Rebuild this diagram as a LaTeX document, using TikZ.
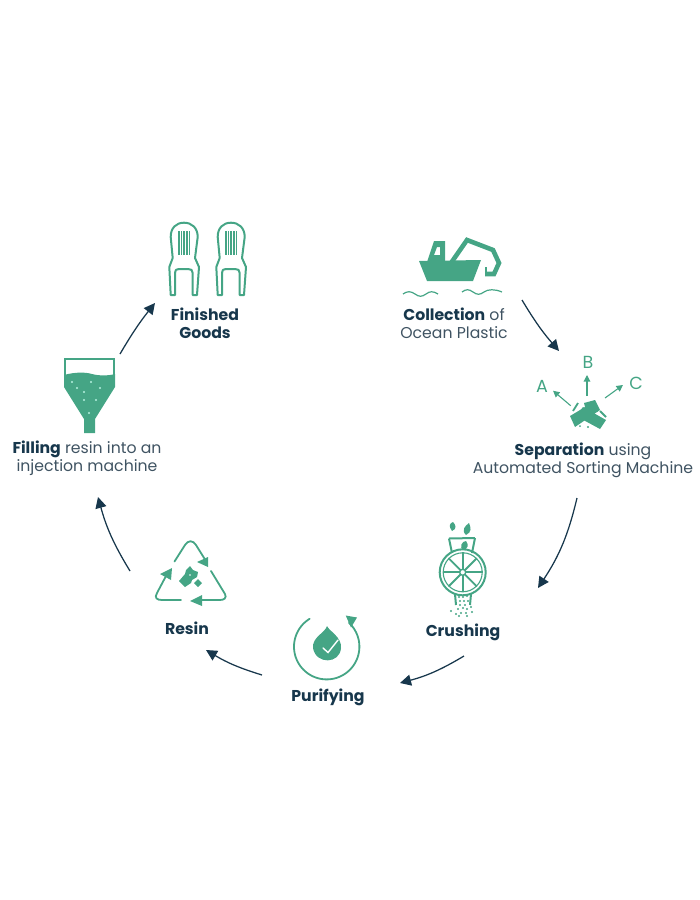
\documentclass[tikz,border=0pt]{standalone}
\usepackage{fontspec}
\setmainfont{Poppins}
\usetikzlibrary{arrows.meta}
\definecolor{leaf}{HTML}{45A585}
\definecolor{navy}{HTML}{17374C}
\definecolor{ink}{HTML}{3F5362}
\definecolor{glint}{HTML}{B5F0E0}
\tikzset{
  x=1pt,y=-1pt,
  flow/.style={draw=navy,line width=1.25pt,-{Triangle[length=11pt,width=11pt,fill=navy]}},
  label/.style={font=\fontsize{15.7}{18.2}\selectfont,text=ink,align=center,inner sep=0pt,anchor=center},
  icon/.style={draw=leaf,line width=2pt,fill=none,line join=round},
  solid/.style={fill=leaf,draw=none},
  sep/.style={draw=leaf,line width=1.1pt,-{Triangle[length=6.5pt,width=6.5pt,fill=leaf]}},
  letter/.style={font=\fontsize{17.5}{18}\selectfont,text=leaf,inner sep=0pt},
  speck/.style={fill=leaf,draw=none},
  turn/.style={draw=leaf,line width=1.8pt,line cap=round,fill=none}
}
\newcommand{\bt}[1]{{\bfseries\color{navy}#1}}
\begin{document}
\begin{tikzpicture}
\useasboundingbox (0,0) rectangle (700,900);
% labels
\node[label] (collection) at (454,323) {\bt{Collection} of\\Ocean Plastic};
\node[label] (separation) at (583,460) {\bt{Separation} using\\Automated Sorting Machine};
\node[label] (crushing) at (463,632) {\bt{Crushing}};
\node[label] (purifying) at (328,697) {\bt{Purifying}};
\node[label] (resin) at (187,628) {\bt{Resin}};
\node[label] (filling) at (87,458) {\bt{Filling} resin into an\\injection machine};
\node[label] (finished) at (205,323) {\bt{Finished}\\\bt{Goods}};
% connector ends
\coordinate (a1) at (522,300); \coordinate (b1) at (559,351);
\coordinate (a2) at (577,498); \coordinate (b2) at (538,588);
\coordinate (a3) at (464,656); \coordinate (b3) at (400,683);
\coordinate (a4) at (262,675); \coordinate (b4) at (206,650);
\coordinate (a5) at (130,571); \coordinate (b5) at (98,497);
\coordinate (a6) at (120,354); \coordinate (b6) at (155,303);
\draw[flow] (a1) to[bend right=5] (b1);
\draw[flow] (a2) to[bend left=10] (b2);
\draw[flow] (a3) to[bend left=8] (b3);
\draw[flow] (a4) to[bend left=7] (b4);
\draw[flow] (a5) to[bend left=8] (b5);
\draw[flow] (a6) to[bend left=4] (b6);
% boat
\fill[solid] (419,261) -- (481,260) -- (473,281) -- (427,281) -- cycle;
\fill[solid,even odd rule] (427,262) -- (434,241) -- (445,241) -- (445,262) -- cycle
  (434,255) -- (437,247) -- (440,247) -- (440,255) -- cycle;
\draw[leaf,line width=4.6pt,line join=miter] (451,263) -- (467,240) -- (493,250) -- (499,263) -- (494,274) -- (485,274);
\draw[leaf,line width=2.8pt] (486,276) -- (486,267);
\draw[leaf,line width=1.2pt] (403,294) .. controls (407,291) and (411,291) .. (415,294) .. controls (419,297) and (422,297) .. (426,294) .. controls (430,291) and (433,291) .. (438,294);
\draw[leaf,line width=1.2pt] (462,292) .. controls (466,289) and (469,289) .. (473,292) .. controls (477,295) and (480,295) .. (484,292) .. controls (488,289) and (495,289) .. (502,292);
% separation
\draw[sep] (570.7,405.7) -- (553,390.7);
\draw[sep] (587,396) -- (587,375);
\draw[sep] (605,398) -- (623,385);
\node[letter] (la) at (542,386) {A};
\node[letter] (lb) at (588,362) {B};
\node[letter] (lc) at (636,383) {C};
\fill[solid] (570,416) -- (575,427) -- (600,410) -- (595,400) -- (584,403) -- (585,407) -- cycle;
\fill[solid] (583,407) -- (576,416) -- (600,429) -- (606,420) -- cycle;
\draw[leaf,line width=1.8pt] (573,411) -- (578,403);
\draw[leaf,line width=1.8pt] (600,411) -- (606,417);
\fill[speck] (580,426) circle (1pt) (588,427) circle (1.2pt) (597,411) circle (1pt);
% crusher
\draw[icon] (449,538.5) -- (475,538);
\draw[icon] (449,538.5) -- (452,553);
\draw[icon] (475,538) -- (472,553);
\draw[icon] (462.7,572.3) circle (23);
\draw[leaf,line width=1.1pt] (462.7,572.3) circle (19.5);
\foreach \a in {0,45,...,315}{\draw[leaf,line width=1.8pt] (462.7,572.3) ++(\a:3) -- ++(\a:17);}
\draw[leaf,line width=1.4pt,fill=white] (462.7,572.3) circle (3);
\draw[icon] (455,594) -- (456,605);
\draw[icon] (471,594) -- (470,605);
\fill[solid] (452,531) .. controls (448,526) and (450,523) .. (453,522) .. controls (456,525) and (457,529) .. (452,531) -- cycle;
\fill[solid] (466,535) .. controls (461,530) and (465,526) .. (469,523) .. controls (471,528) and (472,532) .. (466,535) -- cycle;
\fill[solid] (463,550) .. controls (459,547) and (462,541) .. (466,541) .. controls (469,545) and (468,549) .. (463,550) -- cycle;
\foreach \x/\y in {459/597,463/597,467/596,460/601,464/601,468/601,460/605,465/605,458/609,463/608,467/609,471/607,456/614,461/613,466/613,472/612,451/611,459/616,467/616}{
  \fill[speck] (\x,\y) circle (1.1pt);}
% purifying
\draw[turn] plot[domain=238.6:-47,samples=70] ({326.7+32.7*cos(\x)},{646.7+32.7*sin(\x)});
\fill[solid] (345.7,615.5) -- (357,617.5) -- (351,627.5) -- cycle;
\fill[solid] (327,626) .. controls (329,631) and (342,637) .. (341,648) .. controls (340,664) and (316,665) .. (313,648) .. controls (312,637) and (325,633) .. (327,626) -- cycle;
\draw[white,line width=1.4pt,line cap=round] (323,648) -- (328,652.5) -- (338,640);
% resin
\draw[turn] (174.5,561.5) -- (185,545) .. controls (188,540) and (193,540) .. (196,545) -- (206,561);
\fill[solid] (197,562) -- (208,557) -- (208,567) -- cycle;
\draw[turn] (211,571) -- (225,594) .. controls (227,598) and (224,600) .. (220,600) -- (202,600);
\fill[solid] (202,595) -- (202,606) -- (190,601) -- cycle;
\draw[turn] (181,600) -- (162,600) .. controls (157,600) and (154,598) .. (157,593) -- (166,576);
\fill[solid] (160,574) -- (172,568) -- (171,580) -- cycle;
\fill[solid] (179,581) -- (185,574) -- (186,570) -- (190,566) -- (193,570) -- (198,572) -- (197,577) -- (192,580) -- (191,583) -- (185,587) -- cycle;
\fill[solid] (194,583) -- (198,579) -- (202,583) -- (198,587) -- cycle;
\fill[white] (190,575) circle (0.8pt);
% funnel
\draw[leaf,line width=2.2pt] (65,376) -- (65,359) -- (114,359) -- (114,376);
\fill[solid] (64,375) .. controls (75,372) and (85,372) .. (92,374) .. controls (100,376) and (107,376) .. (115,374) -- (115,387) -- (95,419) -- (95,433) -- (84,433) -- (84,419) -- (64,387) -- cycle;
\foreach \x/\y in {72/382,91/382,77/388,100/388,84/392,84/400,96/400,89/413}{
  \fill[glint] (\x,\y) circle (1.2pt);}
% chairs
\foreach \dx in {0,47}{
\begin{scope}[xshift=\dx pt]
\draw[icon] (170.7,295) -- (169.3,267) -- (172.7,258) -- (170.7,237) .. controls (170.7,228) and (176,222.7) .. (184,222.7) .. controls (192,222.7) and (197.7,228) .. (197.7,237) -- (195,258) -- (199,267) -- (197,295) -- (192.7,295) -- (192.7,273) .. controls (192.7,270) and (191,269) .. (188,269) -- (179,269) .. controls (176,269) and (175,270) .. (175,273) -- (175,295) -- cycle;
\foreach \sx in {179,181.6,184.2,186.8,189.4}{\draw[leaf,line width=1.6pt] (\sx,231) -- (\sx,255);}
\end{scope}}
\end{tikzpicture}
\end{document}
